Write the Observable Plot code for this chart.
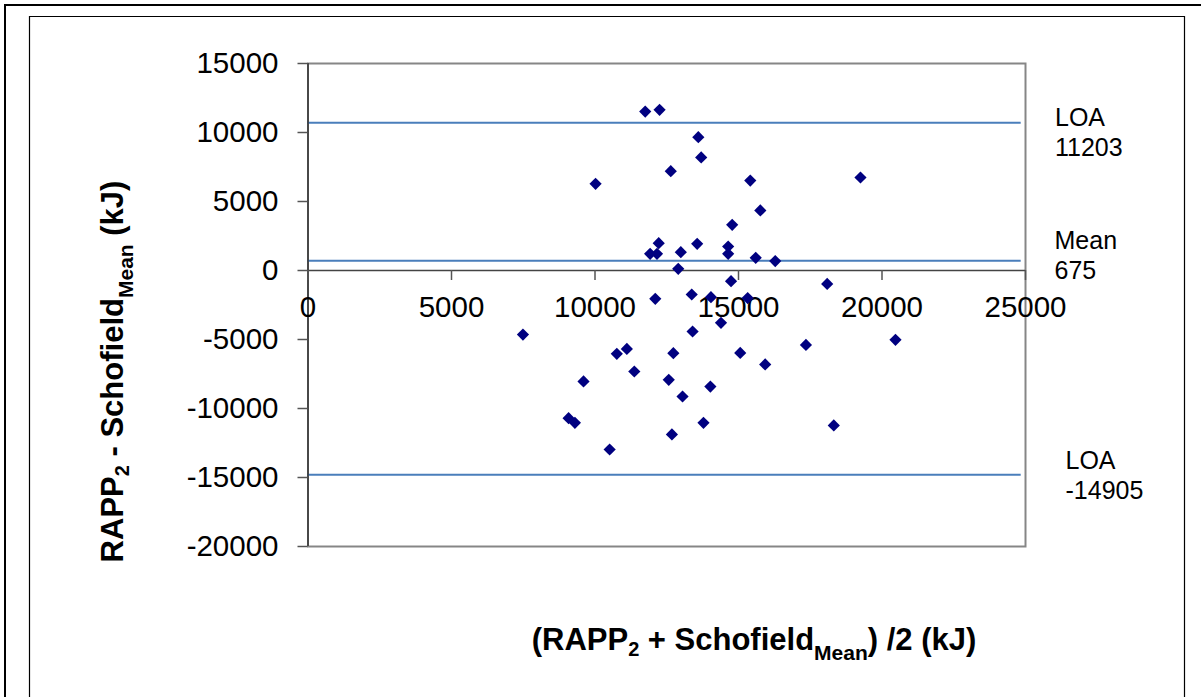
<!DOCTYPE html>
<html><head><meta charset="utf-8">
<script src="https://cdn.jsdelivr.net/npm/d3@7"></script>
<script src="https://cdn.jsdelivr.net/npm/@observablehq/plot@0.6"></script>
<style>
body{margin:0;background:#fff;}
#chart{width:1201px;height:697px;overflow:hidden;position:relative;}
</style>
</head><body><div id="chart"></div>
<script>
// Mean of the two methods (x) and their difference (y), in kJ
const meanX = [11750, 12250, 13600, 13700, 12640, 10020, 12220, 11920, 12160, 12990,
  13560, 12900, 15410, 19250, 15760, 14780, 14640, 14640, 15600, 16280,
  14740, 18090, 12100, 13370, 13400, 7490, 10760, 11110, 12730, 11370,
  9600, 12570, 13050, 9080, 9300, 12680, 10510, 13780, 14040, 15320,
  14390, 17350, 20470, 15060, 15930, 14020, 18320];
const diffY = [11520, 11640, 9660, 8190, 7200, 6280, 1980, 1210, 1210, 1330,
  1930, 120, 6520, 6740, 4350, 3310, 1740, 1210, 920, 680,
  -770, -970, -2050, -1740, -4420, -4640, -6040, -5680, -5990, -7320,
  -8040, -7920, -9130, -10700, -11040, -11880, -12970, -11040, -1930, -2000,
  -3790, -5390, -5020, -5970, -6810, -8410, -11230];
const xTicks = [0, 5000, 10000, 15000, 20000, 25000];
const yTicks = [-20000, -15000, -10000, -5000, 0, 5000, 10000, 15000];
const refValues = [10700, 700, -14800];
const refLabels = ["LOA\n11203", "Mean\n675", "LOA\n-14905"];
const refLineEnd = 24850;

const FONT = "'Liberation Sans', Arial, sans-serif";
const points = meanX.map((x, i) => ({x, y: diffY[i]}));

const labelOffsets = [[29.5, -17.7], [29, -33], [40, -27]];
const labelMarks = refLabels.map((t, i) => Plot.text([t], {
  x: () => xTicks[xTicks.length - 1], y: () => refValues[i], text: d => d,
  textAnchor: "start", lineAnchor: "top", lineHeight: 1.2,
  dx: labelOffsets[i][0], dy: labelOffsets[i][1], fontSize: 25, fill: "#000"
}));

const chart = Plot.plot({
  width: 1201, height: 697,
  marginLeft: 307.5, marginRight: 176, marginTop: 63, marginBottom: 151,
  style: {fontFamily: FONT, background: "transparent", overflow: "visible"},
  x: {domain: [0, 25000], axis: null},
  y: {domain: [-20000, 15000], axis: null},
  marks: [
    Plot.frame({stroke: "#868686", strokeWidth: 2}),
    Plot.ruleY(refValues, {y: d => d, x1: 0, x2: refLineEnd, stroke: "#4a7ebb", strokeWidth: 2}),
    // y axis
    Plot.ruleX([0], {stroke: "#333", strokeWidth: 1.5}),
    Plot.ruleY(yTicks, {y: d => d, x1: 0, x2: 0, insetLeft: -10, stroke: "#555", strokeWidth: 1.5}),
    Plot.text(yTicks, {x: 0, y: d => d, text: d => String(d), textAnchor: "end", dx: -29.5, fontSize: 29.5, fill: "#000"}),
    // x axis at y = 0
    Plot.ruleY([0], {x1: 0, x2: 25000, stroke: "#444", strokeWidth: 1.5}),
    Plot.ruleX(xTicks, {x: d => d, y1: 0, y2: 0, insetBottom: -10, stroke: "#555", strokeWidth: 1.5}),
    Plot.text(xTicks, {x: d => d, y: 0, text: d => String(d), dy: 37, fontSize: 29.5, fill: "#000"}),
    ...labelMarks,
    Plot.dot(points, {x: "x", y: "y", symbol: "diamond2", r: 5.5, fill: "#000080", stroke: "none"})
  ]
});

const svg = d3.select(chart);
// outer decorative frames
svg.append("path").attr("d", "M5,697 V5 H1201").attr("fill", "none").attr("stroke", "#000").attr("stroke-width", 2);
svg.append("path").attr("d", "M29.5,697 V16.5 H1184.5 V697").attr("fill", "none").attr("stroke", "#000").attr("stroke-width", 1.2);

function title(sel, parts) {
  const t = sel.append("text").attr("text-anchor", "middle").attr("font-family", FONT)
    .attr("font-weight", "bold").attr("font-size", 31).attr("fill", "#000");
  parts.forEach(([s, size, dy]) => {
    const ts = t.append("tspan").text(s);
    if (size) ts.attr("font-size", size);
    if (dy) ts.attr("dy", dy);
  });
  return t;
}
const xParts = [["(RAPP"], ["2", 20, 6], [" + Schofield", null, -6], ["Mean", 21, 10], [") /2 (kJ)", null, -10]];
const yParts = [["RAPP"], ["2", 20, 6], [" - Schofield", null, -6], ["Mean", 21, 10], [" (kJ)", null, -10]];
title(svg.append("g").attr("transform", "translate(754,650)"), xParts);
title(svg.append("g").attr("transform", "translate(123,371.5) rotate(-90)"), yParts);

document.getElementById("chart").appendChild(chart);
</script>
</body></html>
